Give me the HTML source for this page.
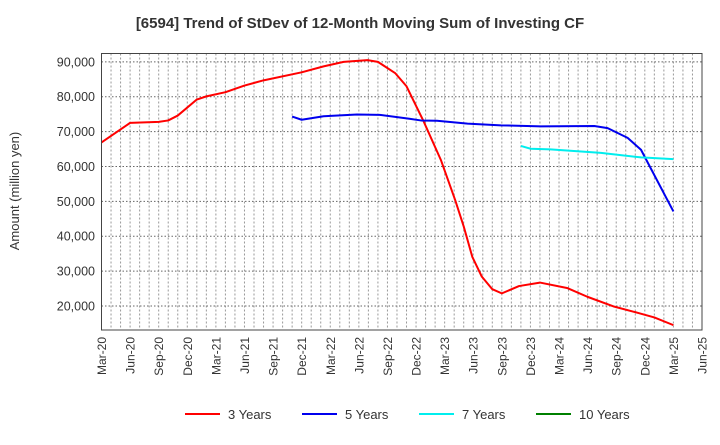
<!DOCTYPE html>
<html><head><meta charset="utf-8"><style>
body{margin:0;background:#fff;font-family:"Liberation Sans",sans-serif}
</style></head><body>
<svg width="720" height="440" id="c" xmlns="http://www.w3.org/2000/svg" font-family="Liberation Sans, sans-serif">
<text x="360" y="28" text-anchor="middle" font-size="15" font-weight="bold" fill="#333">[6594]  Trend of StDev of 12-Month Moving Sum of Investing CF</text>
<text transform="translate(19,191) rotate(-90)" text-anchor="middle" font-size="13" fill="#333">Amount (million yen)</text>
<g id="grid"></g><g id="ticks"></g><g id="series"></g>
<rect x="101.5" y="53.5" width="600.5" height="276.5" fill="none" stroke="#444" stroke-width="1"/>
<g id="legend"></g>
</svg>
<script>
const xLabels=["Mar-20","Jun-20","Sep-20","Dec-20","Mar-21","Jun-21","Sep-21","Dec-21","Mar-22","Jun-22","Sep-22","Dec-22","Mar-23","Jun-23","Sep-23","Dec-23","Mar-24","Jun-24","Sep-24","Dec-24","Mar-25","Jun-25"];
const yTicks=[20000,30000,40000,50000,60000,70000,80000,90000];
const red3M=[0,3,6,7,8,10,11,13,15,17,21,23.3,25.4,27.9,29,30.8,32,33.8,35.6,37.1,38,38.9,39.9,41,42,43.8,46,48.9,51,53.8,56.3,58,60];
const red3V=[66900,72500,72800,73200,74600,79200,80100,81300,83200,84700,87000,88700,90000,90500,90000,86800,83000,72900,61900,50400,42800,34100,28400,24800,23600,25700,26700,25100,22600,19800,18000,16700,14500];
const blue5M=[20,21,23.3,26.8,29.2,32.3,33.5,35.2,38.4,41.9,46.1,51.7,53.1,55.2,56.6,60];
const blue5V=[74300,73400,74400,74900,74800,73700,73200,73100,72300,71800,71500,71600,71000,68200,64800,47100];
const cyan7M=[44,45,47.1,52.4,56.6,60];
const cyan7V=[65900,65100,64900,63900,62600,62100];
const green10M=[];const green10V=[];
const L=101.5,R=702,T=53.5,B=330,vMin=13100,vMax=92400,nMonths=63;
const X=m=>L+(R-L)*m/nMonths;
const Y=v=>B-(B-T)*(v-vMin)/(vMax-vMin);
const NS="http://www.w3.org/2000/svg";
function mk(t,a,p){const e=document.createElementNS(NS,t);for(const k in a)e.setAttribute(k,a[k]);document.getElementById(p).appendChild(e);return e;}
for(let m=1;m<nMonths;m++){const g=mk('line',{x1:X(m),x2:X(m),y1:T,y2:B,stroke:'#999','stroke-dasharray':'2,2','stroke-width':1},'grid');

}
yTicks.forEach(v=>{const g=mk('line',{x1:L,x2:R,y1:Y(v),y2:Y(v),stroke:'#666','stroke-dasharray':'1.5,2','stroke-width':1},'grid');


const t=mk('text',{x:95,y:Y(v)+4.5,'text-anchor':'end','font-size':12.5,fill:'#333'},'ticks');t.textContent=v.toLocaleString('en-US');

});
xLabels.forEach((s,i)=>{const x=X(i*3);const t=mk('text',{transform:`translate(${x+4.5},337) rotate(-90)`,'text-anchor':'end','font-size':12,fill:'#333'},'ticks');t.textContent=s;

});
function line(M,V,c,name){if(!M.length)return;const p=mk('polyline',{points:M.map((m,i)=>X(m)+','+Y(V[i])).join(' '),fill:'none',stroke:c,'stroke-width':2,'stroke-linejoin':'round'},'series');

}
line(red3M,red3V,'#ff0000','series-3-years');
line(blue5M,blue5V,'#0000ee','series-5-years');
line(cyan7M,cyan7V,'#00eeee','series-7-years');
line(green10M,green10V,'#008000','series-10-years');
[['3 Years','#ff0000',185],['5 Years','#0000ee',302],['7 Years','#00eeee',419],['10 Years','#008000',536]].forEach(([s,c,x])=>{
const l=mk('line',{x1:x,x2:x+35,y1:414,y2:414,stroke:c,'stroke-width':2},'legend');


const t=mk('text',{x:x+43,y:419,'font-size':13,fill:'#333'},'legend');t.textContent=s;

});
</script>
</body></html>
